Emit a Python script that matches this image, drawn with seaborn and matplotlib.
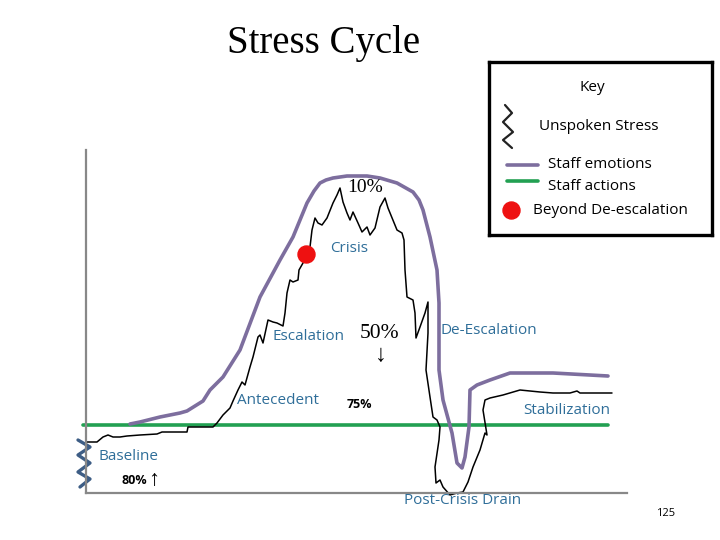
import matplotlib
matplotlib.use("Agg")
import matplotlib.pyplot as plt
import seaborn as sns
import pandas as pd

# ---- data (x = time, y = level) ----
emo_x = [44, 54, 74, 94, 101, 117, 124, 137, 154, 174, 194, 207, 221, 228, 234, 240, 247, 261, 281, 294,
         311, 327, 333, 337, 344, 351, 353, 353, 357, 366, 371, 376, 379, 383, 384, 391, 404, 424, 467, 522]
emo_y = [69, 71, 76, 80, 82, 92, 103, 116, 143, 196, 233, 256, 290, 302, 310, 313, 315, 317, 317, 315,
         310, 301, 293, 283, 256, 223, 190, 123, 93, 60, 30, 25, 36, 66, 103, 108, 113, 120, 120, 117]

str_x = [1, 11, 17, 22, 27, 34, 41, 54, 71, 76, 101, 102, 127, 131, 137, 144, 147, 152, 156, 159,
         164, 167, 172, 174, 177, 182, 187, 191, 197, 199, 201, 204, 207, 212, 213, 217, 220, 224,
         226, 229, 232, 236, 241, 247, 251, 254, 257, 261, 264, 267, 272, 276, 281, 284, 289, 294,
         299, 302, 311, 316, 318, 319, 321, 327, 329, 330, 334, 339, 342, 342, 340, 344, 347, 351,
         354, 353, 349, 350, 354, 357, 364, 371, 377, 382, 387, 394, 399, 401, 397, 399, 404, 417,
         434, 454, 467, 484, 491, 494, 526]
str_y = [51, 51, 56, 58, 56, 56, 57, 58, 59, 61, 61, 66, 66, 70, 78, 85, 92, 103, 111, 108,
         126, 136, 156, 158, 150, 173, 171, 170, 167, 180, 200, 213, 211, 213, 223, 230, 237, 246,
         263, 275, 270, 268, 275, 290, 298, 305, 291, 280, 273, 281, 270, 261, 266, 258, 265, 286,
         295, 285, 263, 260, 253, 223, 196, 193, 180, 155, 166, 180, 191, 160, 123, 96, 76, 73,
         66, 53, 26, 10, 13, 6, -2, 0, 1, 11, 26, 43, 60, 58, 83, 93, 95, 98,
         103, 101, 100, 100, 102, 100, 100]

act_x = [-3, 522]
act_y = [68, 68]

crisis_x = [220]
crisis_y = [239]

squig_x = [-8, 4, -8, 4, -8, 4, -6]
squig_y = [53, 46, 38, 30, 21, 14, 6]

# phase labels
phase_labels = ["Crisis", "Escalation", "Antecedent", "De-Escalation", "Stabilization",
                "Baseline", "Post-Crisis Drain"]
phase_x = [244, 186, 151, 354, 437, 12, 318]
phase_y = [245, 157, 92, 162, 82, 36, -7]

legend_labels = ["Unspoken Stress", "Staff emotions", "Staff actions", "Beyond De-escalation"]

PURPLE = "#7d6e9e"
GREEN = "#22a052"
BLUE_TXT = "#2f6e99"
SANS = ["Open Sans", "DejaVu Sans"]
SERIF = ["Liberation Serif", "DejaVu Serif"]

sns.set_style("white")
plt.rcParams['font.family'] = SANS
plt.rcParams['text.color'] = 'black'

fig = plt.figure(figsize=(7.2, 5.4), dpi=100)
ax = fig.add_axes([86 / 720, 47 / 540, 541 / 720, 343 / 540])

df_emo = pd.DataFrame({"x": emo_x, "y": emo_y})
df_str = pd.DataFrame({"x": str_x, "y": str_y})
df_act = pd.DataFrame({"x": act_x, "y": act_y})
df_sq = pd.DataFrame({"x": squig_x, "y": squig_y})

sns.lineplot(data=df_act, x="x", y="y", sort=False, estimator=None, color=GREEN, lw=2.6, ax=ax)
sns.lineplot(data=df_emo, x="x", y="y", sort=False, estimator=None, color=PURPLE, lw=2.6, ax=ax)
sns.lineplot(data=df_str, x="x", y="y", sort=False, estimator=None, color="black", lw=1.1, ax=ax)
sns.lineplot(data=df_sq, x="x", y="y", sort=False, estimator=None, color="#3d5d85", lw=2.4, ax=ax)
ax.scatter(crisis_x, crisis_y, s=150, color="#ee1111", zorder=5, clip_on=False)
for ln in ax.lines:
    ln.set_clip_on(False)
    ln.set_solid_joinstyle("round")

ax.set_xlim(0, 541)
ax.set_ylim(0, 343)
ax.set_xticks([])
ax.set_yticks([])
ax.set_xlabel("")
ax.set_ylabel("")
for s in ["top", "right"]:
    ax.spines[s].set_visible(False)
for s in ["left", "bottom"]:
    ax.spines[s].set_color("#888888")
    ax.spines[s].set_linewidth(1.6)
ax.patch.set_alpha(0)

for t, x, y in zip(phase_labels, phase_x, phase_y):
    ax.text(x, y, t, color=BLUE_TXT, fontsize=11, ha="left", va="center", clip_on=False)

ax.text(261, 306, "10%", family=SERIF, fontsize=14, ha="left", va="center")
ax.text(274, 160, "50%", family=SERIF, fontsize=15.5, ha="left", va="center")
ax.text(295, 137, "↓", family=SERIF, fontsize=17, ha="center", va="center")
ax.text(261, 88, "75%", fontsize=9, fontweight="bold", ha="left", va="center")
ax.text(36, 13, "80%", fontsize=9, fontweight="bold", ha="left", va="center")
ax.text(68, 12, "↑", family=SERIF, fontsize=16, ha="center", va="center")

# title and page number
fig.text(324 / 720, 1 - 44 / 540, "Stress Cycle", family=SERIF, fontsize=28, ha="center", va="center")
fig.text(666 / 720, 1 - 514 / 540, "125", fontsize=8, ha="center", va="center")

# key box
lax = fig.add_axes([489 / 720, (540 - 235) / 540, 223 / 720, 173 / 540])
lax.set_xlim(0, 223)
lax.set_ylim(173, 0)
lax.set_xticks([])
lax.set_yticks([])
for s in lax.spines.values():
    s.set_visible(True)
    s.set_color("black")
    s.set_linewidth(2.4)
lax.text(103, 25, "Key", fontsize=11, ha="center", va="center")
lax.plot([16, 23, 14, 24, 14, 23], [43, 51, 60, 70, 78, 86], color="#222222", lw=1.6,
         solid_joinstyle="round")
lax.plot([18, 49], [103, 103], color=PURPLE, lw=2.6)
lax.plot([18, 49], [119, 119], color=GREEN, lw=2.6)
lax.scatter([22], [148], s=150, color="#ee1111")
lax.text(50, 65, legend_labels[0], fontsize=11, ha="left", va="center")
lax.text(59, 103, legend_labels[1], fontsize=11, ha="left", va="center")
lax.text(59, 125, legend_labels[2], fontsize=11, ha="left", va="center")
lax.text(44, 148, legend_labels[3], fontsize=11, ha="left", va="center")

fig.savefig("out.png", dpi=100)
